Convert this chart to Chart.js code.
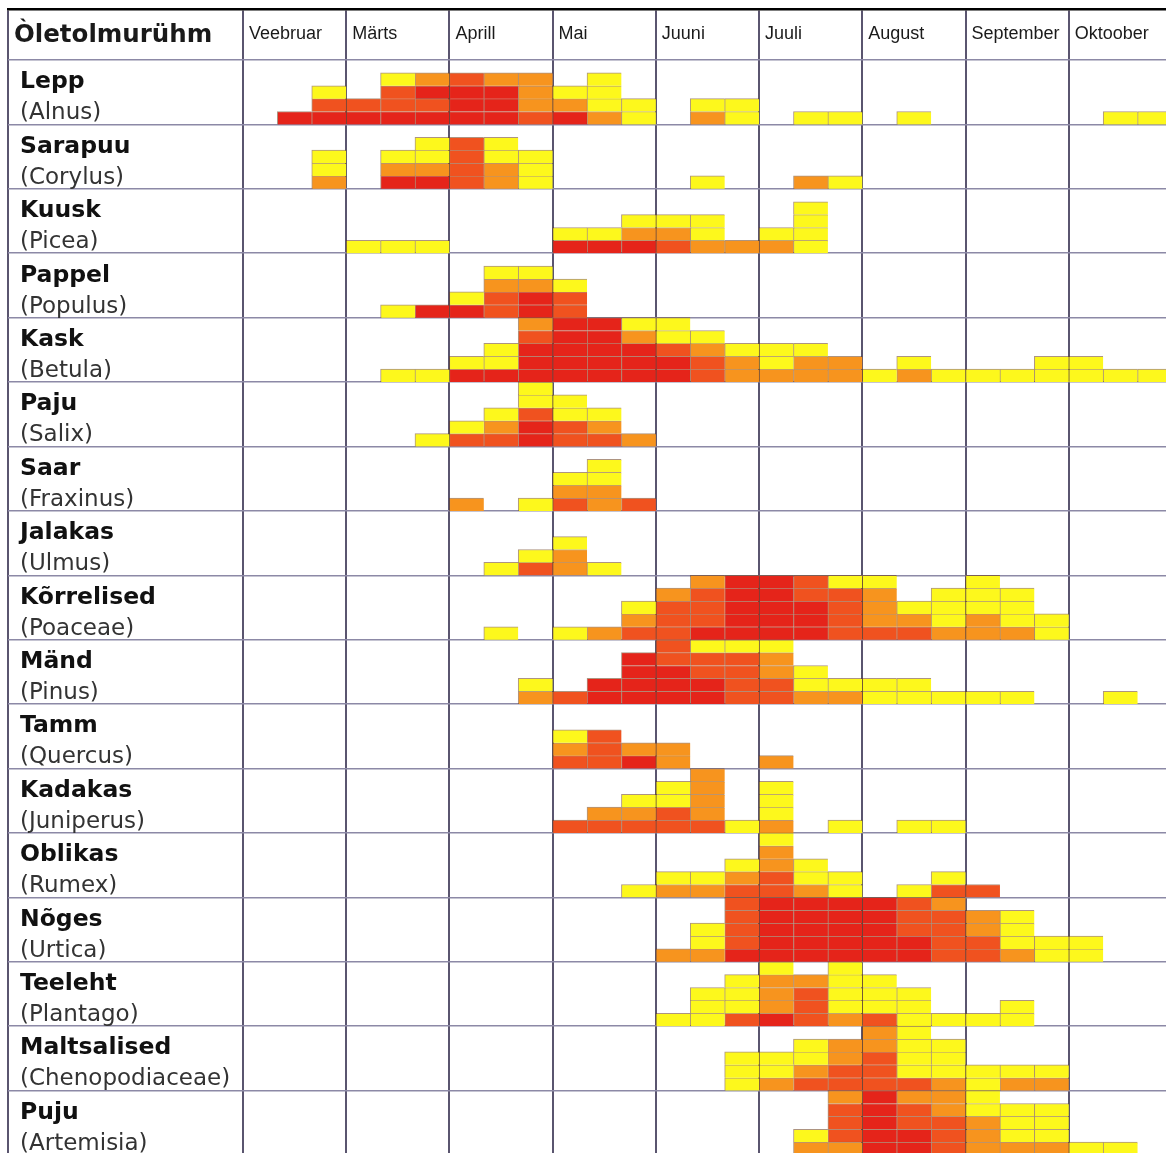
<!DOCTYPE html>
<html>
<head>
<meta charset="utf-8">
<script src="https://cdn.jsdelivr.net/npm/chart.js@4.4.1/dist/chart.umd.min.js"></script>
<style>
html,body{margin:0;padding:0;background:#fff;overflow:hidden;width:1166px;height:1153px}
#wrap{position:absolute;left:0;top:0;width:1180px;height:1160px}
</style>
</head>
<body>
<div id="wrap"><canvas id="c" width="1180" height="1160"></canvas></div>
<script>
// ---------- DATA ----------
const headerLabel = 'Òletolmurühm';
const months = ['Veebruar', 'Märts', 'Aprill', 'Mai', 'Juuni', 'Juuli', 'August', 'September', 'Oktoober'];
const plantNames = ['Lepp', 'Sarapuu', 'Kuusk', 'Pappel', 'Kask', 'Paju', 'Saar', 'Jalakas', 'Kõrrelised', 'Mänd', 'Tamm', 'Kadakas', 'Oblikas', 'Nõges', 'Teeleht', 'Maltsalised', 'Puju'];
const latinNames = ['(Alnus)', '(Corylus)', '(Picea)', '(Populus)', '(Betula)', '(Salix)', '(Fraxinus)', '(Ulmus)', '(Poaceae)', '(Pinus)', '(Quercus)', '(Juniperus)', '(Rumex)', '(Urtica)', '(Plantago)', '(Chenopodiaceae)', '(Artemisia)'];
// intensity levels: 1 = low, 2 = medium, 3 = high, 4 = very high
const levelNames = ['1', '2', '3', '4'];
// each entry = one 10-day period (Feb 1st .. Oct 3rd), blocks listed bottom-up by level
const alnus      = ['', '4', '431', '43', '4331', '4342', '4443', '4442', '3222', '421', '2111', '11', '', '21', '11', '', '1', '1', '', '1', '', '', '', '', '', '1', '1'];
const corylus    = ['', '', '211', '', '421', '4211', '3333', '2211', '111', '', '', '', '', '1', '', '', '2', '1', '', '', '', '', '', '', '', '', ''];
const picea      = ['', '', '', '1', '1', '1', '', '', '', '41', '41', '421', '321', '211', '2', '21', '1111', '', '', '', '', '', '', '', '', '', ''];
const populus    = ['', '', '', '', '1', '4', '41', '3321', '4421', '331', '', '', '', '', '', '', '', '', '', '', '', '', '', '', '', '', ''];
const betula     = ['', '', '', '', '1', '1', '41', '411', '44432', '44444', '44444', '44421', '44311', '3321', '221', '211', '221', '22', '1', '21', '1', '1', '1', '11', '11', '1', '1'];
const salix      = ['', '', '', '', '', '1', '31', '321', '44311', '3311', '321', '2', '', '', '', '', '', '', '', '', '', '', '', '', '', '', ''];
const fraxinus   = ['', '', '', '', '', '', '2', '', '1', '321', '2211', '3', '', '', '', '', '', '', '', '', '', '', '', '', '', '', ''];
const ulmus      = ['', '', '', '', '', '', '', '1', '31', '221', '1', '', '', '', '', '', '', '', '', '', '', '', '', '', '', '', ''];
const poaceae    = ['', '', '', '', '', '', '', '1', '', '1', '2', '321', '3332', '43332', '44444', '44444', '44433', '33331', '32221', '321', '2111', '22111', '2111', '11', '', '', ''];
const pinus      = ['', '', '', '', '', '', '', '', '21', '3', '44', '4444', '44433', '44331', '33331', '33221', '211', '21', '11', '11', '1', '1', '1', '', '', '1', ''];
const quercus    = ['', '', '', '', '', '', '', '', '', '321', '333', '42', '22', '', '', '2', '', '', '', '', '', '', '', '', '', '', ''];
const juniperus  = ['', '', '', '', '', '', '', '', '', '3', '32', '321', '3311', '32222', '1', '2111', '', '1', '', '1', '1', '', '', '', '', '', ''];
const rumex      = ['', '', '', '', '', '', '', '', '', '', '', '1', '21', '21', '321', '33221', '211', '11', '', '1', '31', '3', '', '', '', '', ''];
const urtica     = ['', '', '', '', '', '', '', '', '', '', '', '', '2', '211', '43333', '44444', '44444', '44444', '44444', '44333', '33332', '3322', '2111', '11', '11', '', ''];
const plantago   = ['', '', '', '', '', '', '', '', '', '', '', '', '1', '111', '3111', '42221', '3332', '21111', '3111', '111', '1', '1', '11', '', '', '', ''];
const chenopod   = ['', '', '', '', '', '', '', '', '', '', '', '', '', '', '111', '211', '3211', '3322', '33322', '31111', '2111', '11', '21', '21', '', '', ''];
const artemisia  = ['', '', '', '', '', '', '', '', '', '', '', '', '', '', '', '', '21', '23332', '44444', '44332', '33322', '22211', '2111', '2111', '1', '1', ''];

const rows = [alnus, corylus, picea, populus, betula, salix, fraxinus, ulmus, poaceae, pinus, quercus, juniperus, rumex, urtica, plantago, chenopod, artemisia];

// ---------- STYLE ----------
const levelColors = ['#fdf81c', '#f7941e', '#f0521f', '#e5241a'];
const ROW_UNITS = 5;                 // block slots per row
const HEADER_UNITS = 3.96;           // header row height in block units
const LABEL_DECADES = 6.827;         // label column width in decade units
const nDecades = months.length * 3;
const nRows = rows.length;

// ---------- BUILD ----------
const datasets = levelNames.map((name, li) => ({
  label: name,
  data: [],
  backgroundColor: levelColors[li],
  borderColor: 'rgba(105,60,25,0.55)',
  borderWidth: {top: 1, left: 1, right: 0, bottom: 0},
  borderSkipped: false,
  grouped: false,
  barPercentage: 1,
  categoryPercentage: 1,
  xAxisID: 'x',
  yAxisID: 'y'
}));
rows.forEach((row, r) => {
  row.forEach((code, i) => {
    const base = r * ROW_UNITS + ROW_UNITS;
    for (let k = 0; k < code.length; k++) {
      const lvl = parseInt(code[k], 10);
      datasets[lvl - 1].data.push({x: i + 0.5, y: [base - k - 1, base - k]});
    }
  });
});

const xTickValues = [-LABEL_DECADES].concat(months.map((m, i) => i * 3));
const xTickLabels = [headerLabel].concat(months);
const rowLineValues = [];
for (let r = 0; r <= nRows; r++) rowLineValues.push(r * ROW_UNITS);
const nameTickValues = [];
const nameTickLabels = [];
plantNames.forEach((n, r) => {
  nameTickValues.push(r * ROW_UNITS + 1.72); nameTickLabels.push(n);
  nameTickValues.push(r * ROW_UNITS + 4.14); nameTickLabels.push(latinNames[r]);
});

const zero = (s) => {
  if (s.isHorizontal()) s.height = 0; else s.width = 0;
  s.paddingTop = 0; s.paddingBottom = 0; s.paddingLeft = 0; s.paddingRight = 0;
};

new Chart(document.getElementById('c'), {
  type: 'bar',
  data: {datasets},
  options: {
    responsive: false,
    animation: false,
    devicePixelRatio: 1,
    layout: {padding: {left: 8, top: 9, right: 8, bottom: 5}},
    plugins: {legend: {display: false}, tooltip: {enabled: false}, title: {display: false}},
    scales: {
      x: {
        type: 'linear', position: 'top', min: -LABEL_DECADES, max: nDecades, z: 1,
        offset: false, bounds: 'data',
        afterBuildTicks: (s) => { s.ticks = xTickValues.map(v => ({value: v})); },
        afterFit: zero,
        grid: {color: '#5a556f', lineWidth: 2, drawTicks: false, offset: false},
        border: {display: true, color: '#000', width: 2.5},
        ticks: {
          mirror: true, padding: 12, autoSkip: false, maxRotation: 0, minRotation: 0, align: 'start',
          labelOffset: (ctx) => ctx.index === 0 ? 10 : 6,
          callback: (v, i) => xTickLabels[i],
          color: '#1a1a1a',
          font: (ctx) => ctx.index === 0
            ? {family: 'DejaVu Sans', weight: 'bold', size: 24.5, lineHeight: '30px'}
            : {family: "'Liberation Sans Narrow', 'Liberation Sans'", weight: 'normal', size: 18, lineHeight: '26px'}
        }
      },
      y: {
        type: 'linear', position: 'left', reverse: true, min: -HEADER_UNITS, max: nRows * ROW_UNITS, z: 1,
        bounds: 'data',
        afterBuildTicks: (s) => { s.ticks = rowLineValues.map(v => ({value: v})); },
        afterFit: zero,
        grid: {color: '#8c89a6', lineWidth: 1.5, drawTicks: false},
        border: {display: false},
        ticks: {display: false}
      },
      yl: {
        type: 'linear', position: 'left', reverse: true, min: -HEADER_UNITS, max: nRows * ROW_UNITS,
        bounds: 'data',
        afterBuildTicks: (s) => { s.ticks = nameTickValues.map(v => ({value: v})); },
        afterFit: zero,
        grid: {display: false, drawTicks: false},
        border: {display: false},
        ticks: {
          mirror: true, padding: 12, autoSkip: false,
          callback: (v, i) => nameTickLabels[i],
          color: (ctx) => ctx.index % 2 === 0 ? '#111' : '#333',
          font: (ctx) => ctx.index % 2 === 0
            ? {family: 'DejaVu Sans', weight: 'bold', size: 23.5}
            : {family: 'DejaVu Sans', weight: 'normal', size: 23}
        }
      }
    }
  }
});
</script>
</body>
</html>
